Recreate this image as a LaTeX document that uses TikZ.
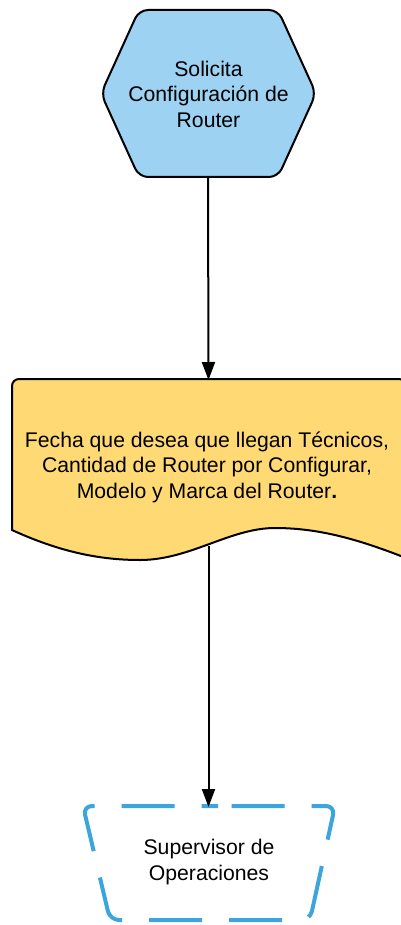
\documentclass[tikz,border=0pt]{standalone}
\usepackage{fontspec}
\setmainfont{Liberation Sans}
\usetikzlibrary{arrows.meta}
\definecolor{hexblue}{RGB}{157,210,243}
\definecolor{docyellow}{RGB}{255,218,116}
\definecolor{dashblue}{RGB}{61,165,222}
\tikzset{
  lbl/.style={align=center, font=\fontsize{21.2}{25.5}\selectfont, text=black, inner sep=0pt},
  shapeline/.style={draw=black, line width=2pt, line join=round},
  arr/.style={draw=black, line width=2pt, -{Triangle[width=13pt,length=18pt]}},
  supbox/.style={draw=dashblue, line width=4pt, dash pattern=on 53pt off 27pt, dash phase=66.5pt, rounded corners=9pt}
}
\begin{document}
\begin{tikzpicture}[x=1pt,y=-1pt]
\useasboundingbox (0,0) rectangle (401,925);
% hexagon
\path[shapeline, fill=hexblue, rounded corners=9pt]
  (139,10) -- (278,10) -- (316,93.5) -- (278,177) -- (139,177) -- (101,93.5) -- cycle;
\node[lbl] (hex) at (208.5,94) {Solicita\\Configuración de\\Router};
% document
\path[shapeline, fill=docyellow]
  (12,530) [rounded corners=7pt] -- (12,379) -- (406,379) [sharp corners] -- (406,558)
  .. controls (360,540) and (320,528) .. (275,528)
  .. controls (230,528) and (190,560) .. (140,560)
  .. controls (100,560) and (60,552) .. (12,530) -- cycle;
\node[lbl] (doc) at (207,467) {Fecha que desea que llegan Técnicos,\\Cantidad de Router por Configurar,\\Modelo y Marca del Router\textbf{.}};
% supervisor
\path[supbox] (209,806) -- (335,806) -- (310,920) -- (110,920) -- (83,806) -- cycle;
\node[lbl] (sup) at (209,862) {Supervisor de\\Operaciones};
% connector anchors
\coordinate (hexB) at (208,177);
\coordinate (docT) at (208.5,380);
\coordinate (docB) at (208.5,546);
\coordinate (supT) at (208.5,807);
\draw[arr] (hexB) -- (docT);
\draw[arr] (docB) -- (supT);
\end{tikzpicture}
\end{document}
